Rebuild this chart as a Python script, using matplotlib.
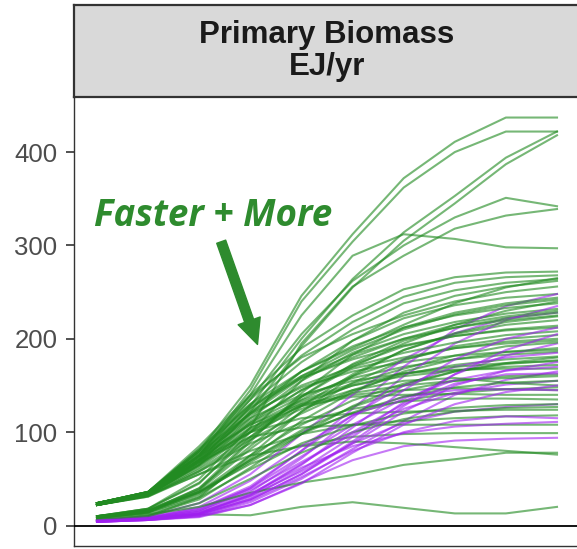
import matplotlib
matplotlib.use("Agg")
import matplotlib.pyplot as plt

years = [2010, 2020, 2030, 2040, 2050, 2060, 2070, 2080, 2090, 2100]

# scenario pathways, EJ/yr
green_runs = [
    [24, 36, 80, 150, 246, 312, 372, 411, 437, 437],
    [22, 34, 75, 145, 240, 304, 362, 400, 422, 422],
    [24, 35, 68, 128, 200, 264, 314, 353, 394, 422],
    [22, 33, 65, 122, 192, 255, 305, 345, 387, 418],
    [24, 36, 72, 135, 205, 262, 300, 330, 351, 342],
    [10, 18, 50, 105, 195, 256, 289, 318, 332, 339],
    [24, 36, 75, 140, 225, 289, 312, 307, 298, 297],
    [24, 36, 85, 140, 190, 225, 253, 266, 271, 272],
    [22, 34, 80, 135, 182, 218, 245, 260, 266, 268],
    [24, 35, 78, 130, 175, 210, 238, 252, 260, 264],
    [10, 18, 45, 100, 155, 198, 228, 246, 256, 262],
    [24, 36, 82, 138, 180, 205, 225, 240, 250, 256],
    [22, 33, 70, 120, 165, 198, 222, 236, 244, 248],
    [8, 14, 38, 90, 142, 183, 212, 228, 238, 244],
    [24, 34, 75, 125, 165, 192, 212, 225, 233, 238],
    [22, 32, 68, 115, 155, 185, 205, 218, 227, 232],
    [10, 16, 40, 92, 138, 173, 198, 212, 222, 228],
    [24, 36, 80, 128, 160, 183, 200, 212, 220, 225],
    [5, 10, 30, 75, 122, 160, 188, 205, 215, 220],
    [22, 33, 65, 110, 145, 172, 192, 203, 210, 214],
    [24, 35, 72, 118, 150, 170, 185, 196, 204, 208],
    [10, 17, 38, 82, 122, 153, 177, 192, 200, 204],
    [22, 32, 62, 100, 135, 160, 178, 190, 197, 200],
    [8, 14, 32, 72, 112, 143, 165, 178, 186, 190],
    [24, 34, 70, 110, 138, 158, 170, 178, 183, 186],
    [22, 31, 58, 92, 120, 145, 162, 172, 178, 181],
    [10, 16, 36, 75, 108, 134, 152, 165, 173, 177],
    [24, 35, 75, 115, 140, 155, 163, 167, 168, 168],
    [22, 33, 65, 100, 125, 142, 150, 155, 158, 160],
    [10, 15, 34, 68, 98, 121, 138, 148, 153, 155],
    [24, 34, 68, 105, 128, 138, 140, 141, 140, 140],
    [22, 32, 58, 88, 110, 125, 133, 136, 136, 135],
    [8, 13, 30, 60, 88, 107, 120, 126, 129, 130],
    [24, 35, 70, 100, 115, 120, 122, 123, 124, 124],
    [22, 31, 55, 80, 98, 108, 112, 115, 117, 118],
    [24, 34, 68, 95, 105, 108, 108, 108, 108, 108],
    [10, 16, 36, 66, 86, 95, 98, 99, 99, 99],
    [22, 32, 55, 75, 85, 90, 88, 84, 80, 76],
    [8, 12, 20, 35, 46, 54, 65, 71, 78, 78],
    [5, 7, 12, 11, 20, 25, 19, 13, 13, 20],
    [24, 36, 82, 130, 165, 190, 215, 238, 255, 265],
    [22, 34, 75, 120, 158, 180, 200, 215, 224, 230],
    [10, 18, 46, 95, 138, 170, 195, 215, 230, 240],
    [24, 35, 70, 112, 145, 168, 180, 190, 195, 198],
    [22, 32, 60, 95, 130, 150, 160, 166, 170, 172],
    [24, 36, 78, 120, 148, 165, 175, 182, 186, 188],
    [8, 14, 35, 70, 102, 127, 145, 155, 160, 162],
    [22, 33, 66, 102, 128, 145, 155, 158, 153, 150],
    [24, 35, 74, 108, 130, 140, 145, 147, 146, 145],
    [23, 34, 72, 122, 160, 188, 210, 226, 236, 242],
    [9, 15, 40, 85, 128, 162, 188, 206, 218, 224],
    [23, 35, 76, 126, 158, 178, 193, 203, 209, 212],
    [6, 11, 28, 62, 98, 128, 150, 165, 174, 180],
    [23, 33, 64, 104, 132, 150, 163, 170, 174, 176],
    [9, 15, 36, 70, 100, 120, 134, 142, 146, 148],
    [23, 34, 70, 108, 134, 152, 168, 182, 192, 196],
    [6, 10, 24, 50, 78, 100, 114, 122, 126, 127],
]

purple_runs = [
    [5, 8, 18, 40, 80, 125, 170, 210, 235, 248],
    [4, 7, 15, 36, 72, 115, 160, 195, 220, 235],
    [5, 8, 14, 32, 65, 105, 145, 178, 200, 212],
    [4, 6, 12, 30, 60, 95, 132, 162, 182, 195],
    [6, 9, 18, 42, 80, 118, 150, 170, 180, 185],
    [5, 7, 12, 28, 55, 88, 122, 150, 166, 175],
    [4, 6, 10, 25, 50, 82, 112, 140, 156, 165],
    [5, 8, 16, 38, 68, 98, 125, 142, 151, 155],
    [4, 6, 10, 22, 45, 78, 108, 130, 143, 150],
    [5, 7, 13, 32, 58, 88, 110, 122, 127, 130],
    [4, 6, 11, 27, 52, 80, 100, 112, 117, 115],
    [5, 7, 13, 34, 62, 85, 99, 106, 109, 111],
    [4, 6, 9, 22, 46, 70, 85, 91, 93, 94],
    [6, 9, 20, 48, 85, 118, 138, 145, 146, 145],
    [5, 7, 12, 28, 55, 90, 128, 162, 188, 205],
    [6, 10, 24, 55, 98, 140, 178, 206, 222, 228],
    [5, 8, 16, 40, 74, 108, 136, 156, 166, 170],
    [4, 7, 13, 33, 66, 100, 130, 152, 162, 163],
]

y_ticks = [0, 100, 200, 300, 400]
panel_title = "Primary Biomass\nEJ/yr"
note_text = "Faster + More"

GREEN = "#228B22"
PURPLE = "#A020F0"
NOTE_GREEN = "#2E8B2E"

W, H = 577, 549
fig = plt.figure(figsize=(W / 100, H / 100), dpi=100)

# main panel, in pixel-derived figure fractions
ax = fig.add_axes([74 / W, 3 / H, 506 / W, 449 / H])
for i, run in enumerate(green_runs):
    ax.plot(years, run, color=GREEN, alpha=0.62, lw=1.5, zorder=2 + (i % 3))
for i, run in enumerate(purple_runs):
    ax.plot(years, run, color=PURPLE, alpha=0.6, lw=1.5, zorder=2 + (i % 3) + 0.5)

ax.axhline(0, color="black", lw=1.3, zorder=6)
ax.set_xlim(2005.5, 2104.5)
ax.set_ylim(-21.9, 459)
ax.set_yticks(y_ticks)
ax.set_yticklabels([str(t) for t in y_ticks], fontsize=18.5,
                   family="Liberation Sans", color="#4D4D4D")
ax.tick_params(axis="y", length=6, width=1.2, color="#333333", pad=6)
ax.tick_params(axis="x", bottom=False, labelbottom=False)
for side, sp in ax.spines.items():
    sp.set_color("#333333")
    sp.set_linewidth(1.0)
ax.spines["top"].set_visible(False)

ax.text(2009.4, 321, note_text, color=NOTE_GREEN, fontsize=26.5,
        family=["Open Sans", "DejaVu Sans"], weight="bold", style="italic",
        ha="left", va="baseline", zorder=7)
ax.annotate("", xy=(2041.4, 194), xytext=(2034.3, 304),
            arrowprops=dict(arrowstyle="simple,head_width=0.42,head_length=0.45,tail_width=0.17",
                            color=NOTE_GREEN, mutation_scale=40,
                            shrinkA=0, shrinkB=0), zorder=7)

# facet strip on top
strip = fig.add_axes([74 / W, (H - 97) / H, 506 / W, 92 / H])
strip.set_facecolor("#D9D9D9")
strip.set_xticks([])
strip.set_yticks([])
for sp in strip.spines.values():
    sp.set_color("#333333")
    sp.set_linewidth(1.6)
strip.text(0.5, 0.5, panel_title, transform=strip.transAxes,
           ha="center", va="center", fontsize=22.5, family="Liberation Sans",
           weight="bold", color="#1A1A1A", linespacing=1.05)

fig.savefig("out.png", dpi=100)
